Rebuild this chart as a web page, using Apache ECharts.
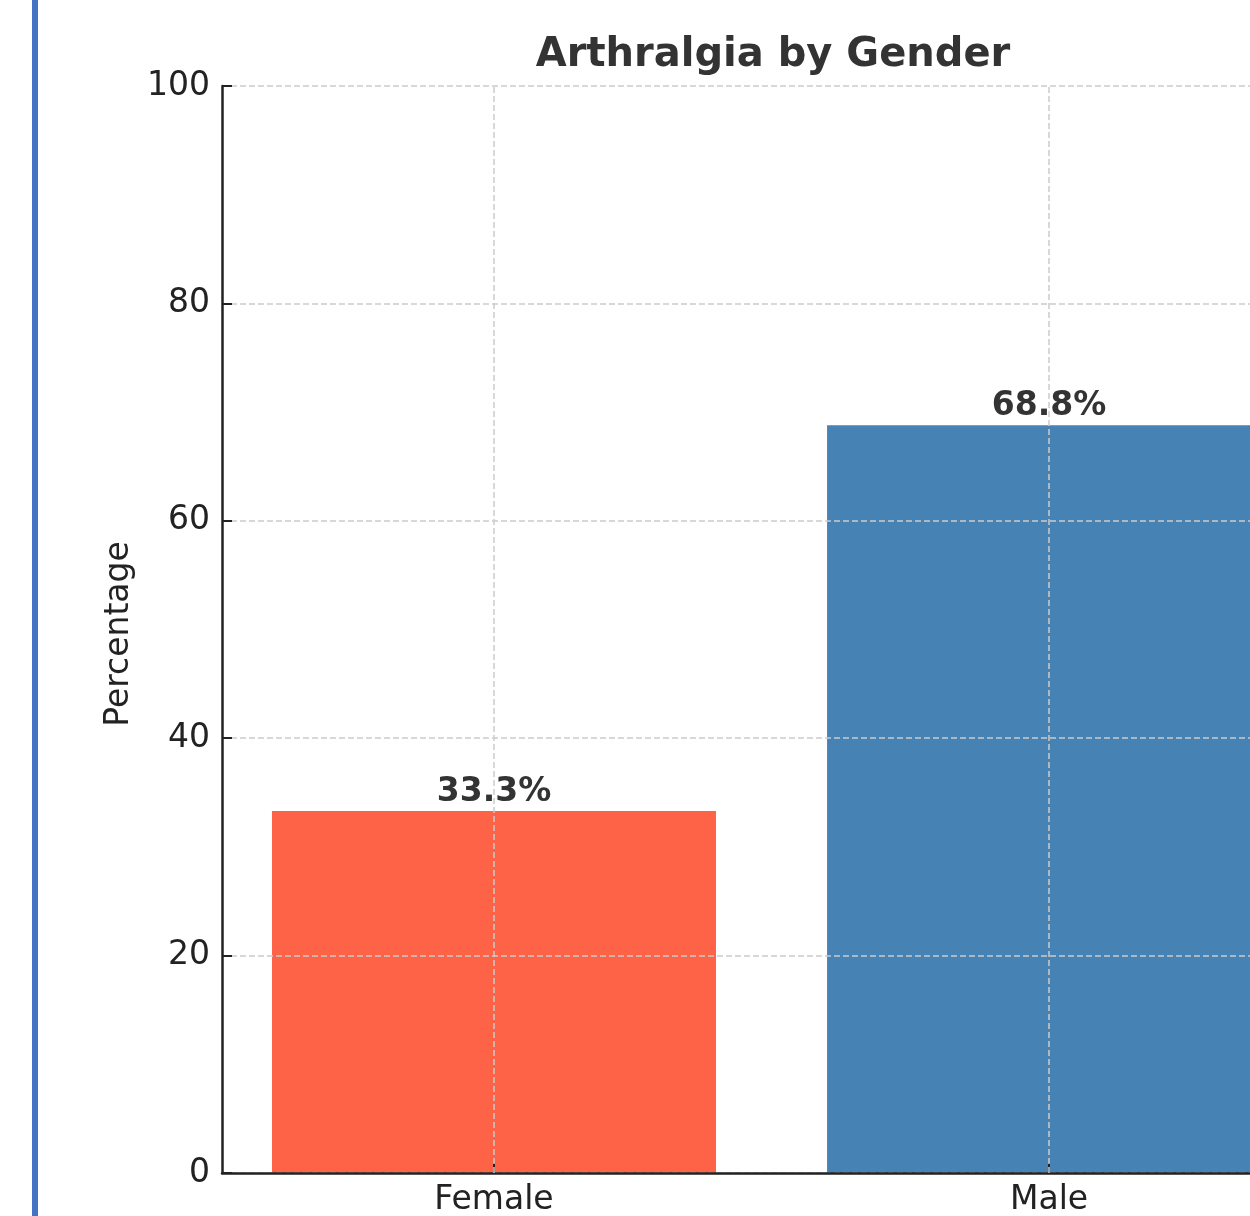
<!DOCTYPE html>
<html>
<head>
<meta charset="utf-8">
<title>Arthralgia by Gender</title>
<script src="https://cdn.jsdelivr.net/npm/echarts@6/dist/echarts.min.js"></script>
<style>
  html, body { margin: 0; padding: 0; background: #fff; }
  #chart { width: 1250px; height: 1216px; }
</style>
</head>
<body>
<div id="chart"></div>
<script>
// Share of patients reporting arthralgia, by gender
const categories = ['Female', 'Male'];
const percentages = [33.3, 68.8];
const yTicks = [0, 20, 40, 60, 80, 100];

const barColors = ['#ff6347', '#4682b4'];
const FONT = 'DejaVu Sans';

const chart = echarts.init(document.getElementById('chart'), null, { renderer: 'canvas' });

const positions = categories.map((_, i) => i);

// x range: bars at 0..1 with 0.09 margin on the left; the right side runs off the page
const xMin = -0.49;
const xMax = 1.362;

chart.setOption({
  animation: false,
  backgroundColor: '#ffffff',
  title: {
    text: 'Arthralgia by Gender',
    left: 768,
    top: 31,
    textAlign: 'center',
    textStyle: { fontFamily: FONT, fontWeight: 'bold', fontSize: 40, color: '#333333' }
  },
  graphic: [{
    type: 'rect',
    shape: { x: 32, y: 0, width: 6, height: 1216 },
    style: { fill: '#4472c4' },
    z: 10
  }],
  grid: { left: 222, top: 86, right: 0, bottom: 43, containLabel: false, outerBoundsMode: 'none' },
  xAxis: {
    type: 'value',
    min: xMin,
    max: xMax,
    z: 5,
    axisLine: { show: true, onZero: false, lineStyle: { color: '#222222', width: 2.5 } },
    axisTick: {
      show: true, inside: true, length: 10, customValues: positions,
      lineStyle: { color: '#222222', width: 2 }
    },
    axisLabel: {
      customValues: positions,
      margin: 11,
      fontFamily: FONT, fontSize: 33, color: '#222222',
      formatter: v => categories[Math.round(v)]
    },
    splitLine: { show: false }
  },
  yAxis: {
    type: 'value',
    min: yTicks[0],
    max: yTicks[yTicks.length - 1],
    interval: yTicks[1] - yTicks[0],
    z: 5,
    name: 'Percentage',
    nameLocation: 'middle',
    nameRotate: 90,
    nameGap: 86,
    nameTextStyle: { fontFamily: FONT, fontSize: 33, color: '#222222', padding: [0, 9, 0, 0] },
    axisLine: { show: true, onZero: false, lineStyle: { color: '#222222', width: 2.5 } },
    axisTick: { show: true, inside: true, length: 10, lineStyle: { color: '#222222', width: 2 } },
    axisLabel: { margin: 12, fontFamily: FONT, fontSize: 33, color: '#222222' },
    splitLine: { show: true, lineStyle: { color: '#cccccc', width: 1.5, type: [6, 3] } }
  },
  series: [{
    type: 'bar',
    barWidth: 444,
    clip: true,
    data: percentages.map((v, i) => ({
      value: [positions[i], v],
      itemStyle: { color: barColors[i] }
    })),
    label: {
      show: true,
      position: 'top',
      distance: 2,
      fontFamily: FONT, fontWeight: 'bold', fontSize: 33, color: '#333333',
      formatter: p => p.value[1].toFixed(1) + '%'
    },
    markLine: {
      silent: true,
      symbol: 'none',
      z: 6,
      label: { show: false },
      lineStyle: { color: '#cccccc', width: 1.5, type: [6, 3] },
      data: positions.map(x => ({ xAxis: x }))
    }
  }]
});
</script>
</body>
</html>
